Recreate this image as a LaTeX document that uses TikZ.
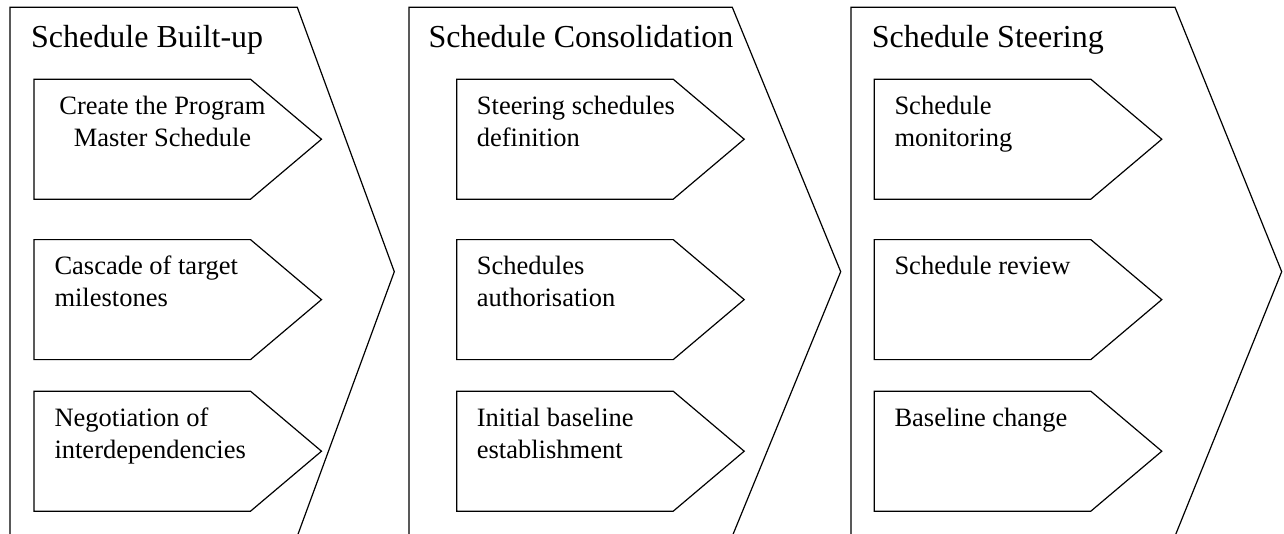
\documentclass[tikz,border=0pt]{standalone}
\usepackage{fontspec}
\setmainfont{Liberation Serif}
\begin{document}
\begin{tikzpicture}[x=1pt,y=-1pt,
  outline/.style={draw=black,line width=1.2pt,line join=miter},
  title/.style={anchor=base west,inner sep=0pt,font=\fontsize{32}{38}\selectfont},
  itemtext/.style={anchor=base west,inner sep=0pt,font=\fontsize{26.5}{31.5}\selectfont},
  itemcenter/.style={anchor=base,inner sep=0pt,font=\fontsize{26.5}{31.5}\selectfont}]
\useasboundingbox (0,0) rectangle (1284,533);
\clip (0,0) rectangle (1284,533);
% panels (large chevrons)
\draw[outline] (10,7.3) -- (297.3,7.3) -- (394.3,271.7) -- (297.3,536.1) -- (10,536.1) -- cycle;
\draw[outline] (409,7.3) -- (732.3,7.3) -- (840.7,271.7) -- (732.3,536.1) -- (409,536.1) -- cycle;
\draw[outline] (851,7.3) -- (1175,7.3) -- (1281.7,271.7) -- (1175,536.1) -- (851,536.1) -- cycle;
% inner chevrons
\foreach \bx in {34,456.7,874.3}{
  \foreach \ty in {79.2,239.6,391.2}{
    \draw[outline] (\bx,\ty) -- (\bx+216.5,\ty) -- (\bx+287.5,\ty+60) -- (\bx+216.5,\ty+120) -- (\bx,\ty+120) -- cycle;
  }
}
% titles
\node[title] (t1) at (31,47.6) {Schedule Built-up};
\node[title] (t2) at (428.3,47.6) {Schedule Consolidation};
\node[title] (t3) at (871.7,47.6) {Schedule Steering};
% panel 1 texts
\node[itemcenter] (a1) at (162.5,114.5) {\parbox[t]{260pt}{\centering Create the Program\\Master Schedule}};
\node[itemtext] (a2) at (54.3,274.8) {\parbox[t]{260pt}{\raggedright Cascade of target\\milestones}};
\node[itemtext] (a3) at (54.3,426.5) {\parbox[t]{260pt}{\raggedright Negotiation of\\interdependencies}};
% panel 2 texts
\node[itemtext] (b1) at (476.7,114.5) {\parbox[t]{260pt}{\raggedright Steering schedules\\definition}};
\node[itemtext] (b2) at (476.7,274.8) {\parbox[t]{260pt}{\raggedright Schedules\\authorisation}};
\node[itemtext] (b3) at (476.7,426.5) {\parbox[t]{260pt}{\raggedright Initial baseline\\establishment}};
% panel 3 texts
\node[itemtext] (c1) at (894.3,114.5) {\parbox[t]{260pt}{\raggedright Schedule\\monitoring}};
\node[itemtext] (c2) at (894.3,274.8) {Schedule review};
\node[itemtext] (c3) at (894.3,426.5) {Baseline change};
\end{tikzpicture}
\end{document}
